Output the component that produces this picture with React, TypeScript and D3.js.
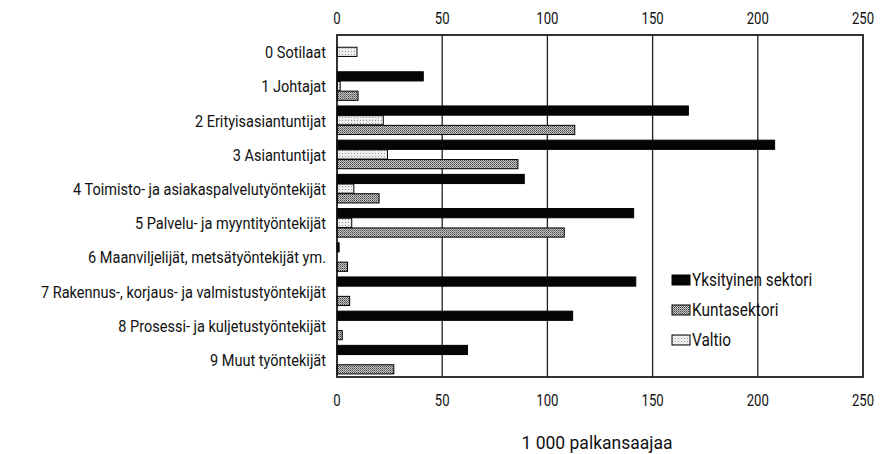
import React from "react";
import * as d3 from "d3";

const categories = [
  "0 Sotilaat",
  "1 Johtajat",
  "2 Erityisasiantuntijat",
  "3 Asiantuntijat",
  "4 Toimisto- ja asiakaspalvelutyöntekijät",
  "5 Palvelu- ja myyntityöntekijät",
  "6 Maanviljelijät, metsätyöntekijät ym.",
  "7 Rakennus-, korjaus- ja valmistustyöntekijät",
  "8 Prosessi- ja kuljetustyöntekijät",
  "9 Muut työntekijät",
];
const seriesNames = ["Yksityinen sektori", "Valtio", "Kuntasektori"];
const legendOrder = ["Yksityinen sektori", "Kuntasektori", "Valtio"];
const yksityinen = [0, 41, 167, 208, 89, 141, 1, 142, 112, 62];
const valtio = [9.5, 1.5, 22, 24, 8, 7, 0, 0, 0, 0];
const kunta = [0, 10, 113, 86, 20, 108, 5, 6, 2.5, 27];
const ticks = [0, 50, 100, 150, 200, 250];
const xTitle = "1 000 palkansaajaa";

const W = 882;
const H = 454;
const FONT = "Roboto, 'Open Sans', sans-serif";

function CText(props: { x: number; y: number; anchor?: string; size: number; sx?: number; children: React.ReactNode }) {
  const { x, y, anchor = "start", size, sx = 0.88, children } = props;
  return (
    <g transform={`translate(${x},${y}) scale(${sx},1)`}>
      <text x={0} y={0} textAnchor={anchor} fontFamily={FONT} fontSize={size} fill="#111">
        {children}
      </text>
    </g>
  );
}

export default function App() {
  const left = 337, right = 863, top = 35, bottom = 377;
  const x = d3.scaleLinear().domain([0, 250]).range([left, right]);
  const y = d3.scaleBand<string>().domain(categories).range([top, bottom]).paddingInner(0.15).paddingOuter(0.075);
  const sub = d3.scaleBand<string>().domain(seriesNames).range([0, y.bandwidth()]);
  const values: Record<string, number[]> = {
    "Yksityinen sektori": yksityinen,
    Valtio: valtio,
    Kuntasektori: kunta,
  };
  const fills: Record<string, string> = {
    "Yksityinen sektori": "#050505",
    Kuntasektori: "url(#kuntaPat)",
    Valtio: "url(#valtioPat)",
  };
  return (
    <svg width={W} height={H} style={{ display: "block", position: "absolute", left: 0, top: 0, background: "#fff" }}>
      <defs>
        <pattern id="kuntaPat" width={2} height={2} patternUnits="userSpaceOnUse">
          <rect width={2} height={2} fill="#c8c8c8" />
          <rect width={1} height={1} fill="#444" />
          <rect x={1} y={1} width={1} height={1} fill="#777" />
        </pattern>
        <pattern id="valtioPat" width={3} height={3} patternUnits="userSpaceOnUse">
          <rect width={3} height={3} fill="#eeeeee" />
          <rect width={1} height={1} fill="#999" />
        </pattern>
      </defs>
      <rect x={0} y={0} width={W} height={H} fill="#fff" />
      {ticks.slice(1, -1).map((t) => (
        <line key={t} x1={x(t)} x2={x(t)} y1={top} y2={bottom} stroke="#222" strokeWidth={1.3} />
      ))}
      {categories.map((c, i) =>
        seriesNames.map((s) => {
          const v = values[s][i];
          if (!v) return null;
          const y0 = (y(c) as number) + (sub(s) as number);
          return (
            <rect
              key={c + s}
              x={x(0)}
              y={y0}
              width={x(v) - x(0)}
              height={sub.bandwidth() - 0.5}
              fill={fills[s]}
              stroke="#000"
              strokeWidth={1}
            />
          );
        })
      )}
      <rect x={left} y={top} width={right - left} height={bottom - top} fill="none" stroke="#111" strokeWidth={1.7} />
      {ticks.map((t) => (
        <g key={t}>
          <CText x={x(t)} y={24} anchor="middle" size={16} sx={0.82}>{t}</CText>
          <CText x={x(t)} y={406} anchor="middle" size={16} sx={0.82}>{t}</CText>
        </g>
      ))}
      {categories.map((c) => (
        <CText key={c} x={326} y={(y(c) as number) + y.bandwidth() / 2 + 6} anchor="end" size={16.5}>
          {c}
        </CText>
      ))}
      <CText x={597} y={449} anchor="middle" size={17.5} sx={1}>{xTitle}</CText>
      {legendOrder.map((s, i) => (
        <g key={s} transform={`translate(672, ${275 + i * 30})`}>
          <rect x={0} y={0} width={18} height={10} fill={fills[s]} stroke="#000" strokeWidth={1} />
          <CText x={20} y={11} size={17.5}>{s}</CText>
        </g>
      ))}
    </svg>
  );
}
